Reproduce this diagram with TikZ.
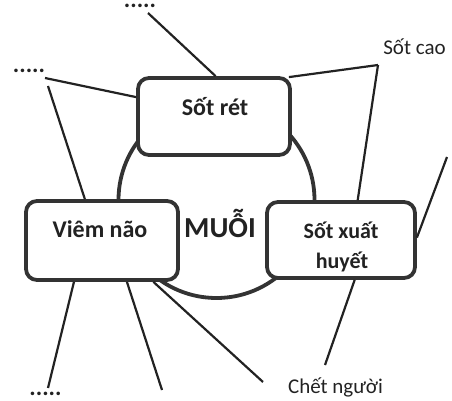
\documentclass[tikz,border=0pt]{standalone}
\usepackage{fontspec}
\setmainfont{Carlito}
\usetikzlibrary{calc}
\definecolor{ink}{HTML}{222222}
\definecolor{frame}{HTML}{333333}
\tikzset{
  boxnode/.style={draw=frame, line width=3.8pt, rounded corners=11pt, fill=white, inner sep=0pt},
  ringnode/.style={draw=frame, line width=3.8pt, circle, inner sep=0pt},
  conn/.style={draw=ink, line width=2.2pt},
  boxtext/.style={font=\bfseries\fontsize{24}{28}\selectfont, text=ink, anchor=base, inner sep=0pt},
  labtext/.style={font=\fontsize{21}{25}\selectfont, text=ink, anchor=base, inner sep=0pt},
  dotstext/.style={font=\bfseries\fontsize{24}{28}\selectfont, text=ink, anchor=base, inner sep=0pt},
}
\begin{document}
\begin{tikzpicture}[x=1pt, y=-1pt]
\useasboundingbox (0,0) rectangle (452,401);
% ring
\node[ringnode, minimum size=196pt] (ring) at (216.5,200) {};
% boxes
\node[boxnode, minimum width=152pt, minimum height=77pt] (sotret) at (214,116.5) {};
\node[boxnode, minimum width=152pt, minimum height=79pt] (viemnao) at (102,240.5) {};
\node[boxnode, minimum width=148pt, minimum height=76pt] (sxh) at (341,240) {};
% texts
\node[boxtext] (tsotret) at (215,116) {Sốt rét};
\node[boxtext] (tviemnao) at (100,237) {Viêm não};
\node[boxtext, font=\bfseries\fontsize{22}{26}\selectfont] (tsxh1) at (341,238) {Sốt xuất};
\node[boxtext, font=\bfseries\fontsize{22}{26}\selectfont] (tsxh2) at (342,268) {huyết};
\node[boxtext, font=\bfseries\fontsize{29}{34}\selectfont] (muoi) at (220,237) {MUỖI};
\node[labtext] (sotcao) at (414.5,55) {Sốt cao};
\node[labtext] (chetnguoi) at (335.5,393) {Chết người};
\node[dotstext] (dtop) at (140,8) {.....};
\node[dotstext] (dleft) at (29,72.5) {.....};
\node[dotstext] (dbot) at (45.5,395.5) {.....};
% connector free ends
\coordinate (a1) at (148,13);
\coordinate (a2) at (45,78);
\coordinate (a3) at (48,86);
\coordinate (a4) at (378,65);
\coordinate (a6) at (447,157);
\coordinate (a7) at (325,365);
\coordinate (a8) at (48,388);
\coordinate (a9) at (162,390);
\coordinate (a10) at (263,382);
% connectors
\draw[conn] (a1) -- ($(sotret.north west)!0.51!(sotret.north east)$);
\draw[conn] (a2) -- ($(sotret.north west)!0.26!(sotret.south west)$);
\draw[conn] (a3) -- ($(viemnao.north west)!0.39!(viemnao.north east)$);
\draw[conn] (a4) -- ($(sotret.north east)+(-3,1)$);
\draw[conn] (a4) -- ($(sxh.north west)!0.61!(sxh.north east)$);
\draw[conn] (a6) -- ($(sxh.north east)!0.47!(sxh.south east)$);
\draw[conn] ($(sxh.south west)!0.59!(sxh.south east)$) -- (a7);
\draw[conn] ($(viemnao.south west)!0.32!(viemnao.south east)$) -- (a8);
\draw[conn] ($(viemnao.south west)!0.66!(viemnao.south east)$) -- (a9);
\draw[conn] ($(viemnao.south west)!0.83!(viemnao.south east)$) -- (a10);
\end{tikzpicture}
\end{document}
